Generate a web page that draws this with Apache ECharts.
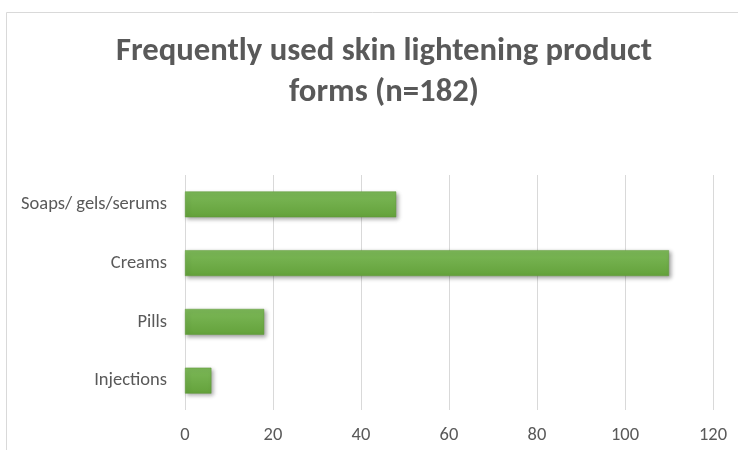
<!DOCTYPE html>
<html>
<head>
<meta charset="utf-8">
<script src="https://cdn.jsdelivr.net/npm/echarts@6/dist/echarts.min.js"></script>
<style>
  html, body { margin: 0; padding: 0; background: #fff; }
  #main { width: 738px; height: 450px; }
</style>
</head>
<body>
<div id="main"></div>
<script>
// 数据
var categories = ['Injections', 'Pills', 'Creams', 'Soaps/ gels/serums'];
var counts = [6, 18, 110, 48];
var xTicks = { min: 0, max: 120, step: 20 };
var titleText = 'Frequently used skin lightening product\nforms (n=182)';

var myChart = echarts.init(document.getElementById('main'));
var fontFam = 'Carlito, Calibri, "Open Sans", sans-serif';
var option = {
  animation: false,
  backgroundColor: '#fff',
  graphic: [{
    type: 'rect',
    shape: { x: 6.5, y: 12.5, width: 800, height: 500 },
    style: { fill: 'none', stroke: '#d9d9d9', lineWidth: 1 },
    silent: true
  }],
  title: {
    text: titleText,
    left: 379,
    textAlign: 'center',
    top: 26,
    textStyle: {
      fontFamily: fontFam,
      fontSize: 32.7,
      fontWeight: 'bold',
      color: '#595959',
      lineHeight: 41
    }
  },
  grid: { left: 185, right: 25, top: 175, bottom: 40, containLabel: false },
  xAxis: {
    type: 'value',
    min: xTicks.min,
    max: xTicks.max,
    interval: xTicks.step,
    axisLine: { show: false },
    axisTick: { show: false },
    splitLine: { show: true, lineStyle: { color: '#d9d9d9', width: 1 } },
    axisLabel: { color: '#595959', fontSize: 18.5, fontFamily: fontFam, margin: 16 }
  },
  yAxis: {
    type: 'category',
    data: categories,
    axisLine: { show: false },
    axisTick: { show: false },
    axisLabel: { color: '#595959', fontSize: 18.5, fontFamily: fontFam, margin: 18 }
  },
  series: [{
    type: 'bar',
    data: counts,
    barCategoryGap: '56%',
    itemStyle: {
      color: new echarts.graphic.LinearGradient(0, 0, 0, 1, [
        { offset: 0, color: '#7cb858' },
        { offset: 1, color: '#64a23b' }
      ]),
      borderColor: '#5e9a37',
      borderWidth: 0.5,
      shadowColor: 'rgba(0,0,0,0.35)',
      shadowBlur: 4,
      shadowOffsetX: 2,
      shadowOffsetY: 2
    }
  }]
};
myChart.setOption(option);
</script>
</body>
</html>
